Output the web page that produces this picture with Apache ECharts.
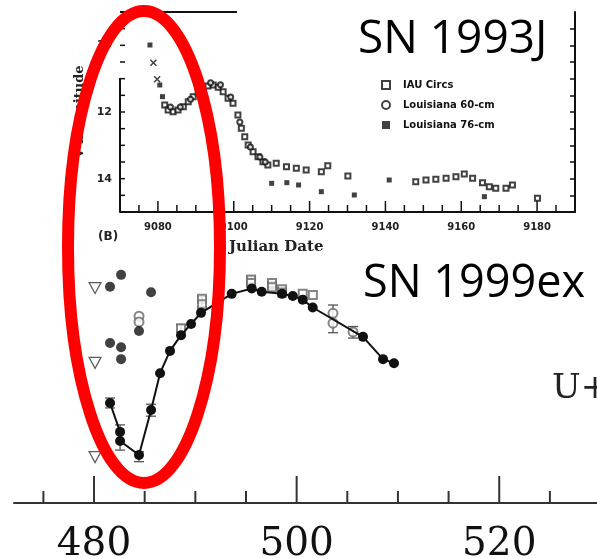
<!DOCTYPE html>
<html><head><meta charset="utf-8">
<script src="https://cdn.jsdelivr.net/npm/echarts@6/dist/echarts.min.js"></script>
<style>html,body{margin:0;padding:0;background:#fff;}#c{width:597px;height:559px;}</style>
</head><body><div id="c"></div>
<script>
// ===== SN 1999ex (main panel): day vs U magnitude =====
const lineDays = [481.58, 482.57, 482.57, 484.44, 485.63, 486.52, 487.50, 488.59, 489.58, 490.56, 493.59, 495.57, 496.55, 498.56, 499.62, 500.60, 501.59, 506.55, 508.53, 509.61];
const lineMags = [18.58, 19.28, 19.50, 19.84, 18.75, 17.86, 17.32, 16.94, 16.67, 16.40, 15.94, 15.81, 15.89, 15.94, 15.99, 16.08, 16.27, 16.98, 17.52, 17.62];

const dotDays = [481.58, 482.67, 485.63, 481.58, 482.67, 482.67, 484.44];
const dotMags = [15.77, 15.48, 15.90, 17.13, 17.23, 17.52, 16.84];

const openCircDays = [484.44, 484.44, 503.59, 503.59, 505.57];
const openCircMags = [16.48, 16.62, 16.41, 16.65, 16.86];

const openSqDays = [488.59, 490.66, 490.66, 495.50, 495.50, 497.57, 497.57, 498.56, 498.56, 500.60, 501.60];
const openSqMags = [16.77, 16.06, 16.19, 15.59, 15.68, 15.68, 15.78, 15.83, 15.91, 15.94, 15.97];

const limitDays = [480.10, 480.10, 480.10];
const limitMags = [15.80, 17.61, 19.89];

const errDays = [481.58, 482.57, 484.44, 485.63, 488.59, 490.66, 495.50, 497.57, 503.59, 505.57];
const errLow  = [18.46, 19.11, 19.76, 18.61, 16.69, 16.00, 15.52, 15.65, 16.21, 16.73];
const errHigh = [18.70, 19.72, 20.00, 18.90, 16.86, 16.25, 15.73, 15.82, 16.88, 17.01];

const mainMajorTicks = [480, 500, 520];
const mainMinorTicks = [475, 485, 490, 495, 505, 510, 515, 525];

// ===== SN 1993J (inset): Julian Date vs V magnitude =====
const crossDays = [9078.8, 9079.8];
const crossMags = [10.52, 11.02];

const ritDays = [9081.8, 9082.7, 9084.0, 9085.3, 9086.7, 9088.0, 9089.3, 9090.6, 9091.9, 9093.2, 9094.6, 9095.9, 9097.2, 9098.5, 9099.8, 9101.1, 9102.0, 9102.9, 9103.8, 9105.1, 9106.4, 9107.7, 9109.0, 9111.2, 9113.9, 9116.5, 9119.1, 9123.1, 9124.8, 9130.1, 9148.0, 9150.7, 9153.3, 9156.0, 9158.6, 9160.8, 9163.0, 9165.6, 9167.4, 9169.1, 9171.8, 9173.5, 9180.1];
const ritMags = [11.79, 11.94, 11.99, 11.94, 11.84, 11.69, 11.54, 11.39, 11.29, 11.22, 11.19, 11.26, 11.39, 11.59, 11.74, 12.09, 12.49, 12.74, 12.99, 13.19, 13.34, 13.49, 13.59, 13.54, 13.64, 13.69, 13.74, 13.79, 13.61, 13.92, 14.09, 14.04, 14.02, 13.99, 13.94, 13.86, 13.99, 14.12, 14.24, 14.29, 14.29, 14.19, 14.59];

const l60Days = [9083.3, 9085.9, 9088.6, 9091.2, 9093.9, 9096.5, 9099.2, 9101.6, 9104.4, 9106.9, 9108.3];
const l60Mags = [11.85, 11.85, 11.62, 11.35, 11.12, 11.18, 11.55, 12.30, 13.05, 13.35, 13.50];

const l76Days = [9077.9, 9080.5, 9081.2, 9110.0, 9114.0, 9117.1, 9123.1, 9131.8, 9141.0, 9166.1];
const l76Mags = [9.99, 11.19, 11.54, 14.14, 14.12, 14.19, 14.39, 14.49, 14.04, 14.54];

const insetLabelTicks = [9080, 9100, 9120, 9140, 9160, 9180];
const insetMinorTicks = [9075, 9085, 9090, 9095, 9105, 9110, 9115, 9125, 9130, 9135, 9145, 9150, 9155, 9165, 9170, 9175, 9185];
const insetMagLabels = [10, 12, 14];
const insetMagTicks = [9.5, 10, 10.5, 11, 11.5, 12, 12.5, 13, 13.5, 14, 14.5];

const legendNames = ['IAU Circs', 'Louisiana 60-cm', 'Louisiana 76-cm'];

const zip = (a, b) => a.map((v, i) => [v, b[i]]);

const chart = echarts.init(document.getElementById('c'), null, {renderer: 'canvas'});

const ink = '#111';
const noLine = {show: false};
const noLabel = {show: false};
const noSplit = {show: false};
const MAIN = {xmin: 472.1, xmax: 529.65, ymin: 15, ymax: 21};
const INS = {xmin: 9070, xmax: 9190, ymin: 9, ymax: 15};

// Axis ticks drawn through the axis scales (x ticks at the bottom edge, y ticks at the left edge)
function xTickSeries(xi, yi, values, yRef, len, color, width) {
  return {type: 'custom', xAxisIndex: xi, yAxisIndex: yi, z: 6, silent: true,
    data: values.map(v => [v, yRef]),
    renderItem: (params, api) => {
      const cs = params.coordSys;
      const x = api.coord([api.value(0), api.value(1)])[0];
      const yb = cs.y + cs.height;
      return {type: 'line', shape: {x1: x, y1: yb, x2: x, y2: yb - len}, style: {stroke: color, lineWidth: width}};
    }};
}
function yTickSeries(xi, yi, values, xRef, len, color, width) {
  return {type: 'custom', xAxisIndex: xi, yAxisIndex: yi, z: 6, silent: true,
    data: values.map(v => [xRef, v]),
    renderItem: (params, api) => {
      const cs = params.coordSys;
      const y = api.coord([api.value(0), api.value(1)])[1];
      return {type: 'line', shape: {x1: cs.x, y1: y, x2: cs.x + len, y2: y}, style: {stroke: color, lineWidth: width}};
    }};
}

const option = {
  animation: false,
  backgroundColor: '#fff',
  grid: [
    {left: 14, right: 0, top: 255, bottom: 56, containLabel: false, outerBoundsMode: 'none'},
    {left: 120, right: 22, top: 12, bottom: 347, containLabel: false, outerBoundsMode: 'none'}
  ],
  legend: {
    left: 376, top: 75, orient: 'vertical', itemGap: 10, itemWidth: 8, itemHeight: 8,
    data: legendNames,
    textStyle: {fontFamily: 'DejaVu Sans', fontWeight: 'bold', fontSize: 10, color: '#111', padding: [0, 0, 0, 8]}
  },
  xAxis: [
    {gridIndex: 0, type: 'value', min: MAIN.xmin, max: MAIN.xmax, position: 'bottom',
      axisLine: {show: true, onZero: false, lineStyle: {color: '#333', width: 2}},
      axisTick: {show: false},
      axisLabel: {show: true, customValues: mainMajorTicks, margin: 22, fontFamily: 'DejaVu Serif', fontSize: 39, color: '#111'},
      splitLine: noSplit},
    {gridIndex: 1, type: 'value', min: INS.xmin, max: INS.xmax, position: 'bottom',
      axisLine: {show: true, onZero: false, lineStyle: {color: ink, width: 2}},
      axisTick: {show: false},
      axisLabel: {show: true, customValues: insetLabelTicks, margin: 10, formatter: v => String(v),
        fontFamily: 'DejaVu Sans', fontWeight: 'bold', fontSize: 10, color: '#222'},
      splitLine: noSplit}
  ],
  yAxis: [
    {gridIndex: 0, type: 'value', min: MAIN.ymin, max: MAIN.ymax, inverse: true, show: false},
    {gridIndex: 1, type: 'value', min: INS.ymin, max: INS.ymax, inverse: true, position: 'left',
      axisLine: noLine, axisTick: {show: false},
      axisLabel: {show: true, customValues: insetMagLabels, margin: 8, fontFamily: 'DejaVu Sans', fontWeight: 'bold', fontSize: 11, color: '#222'},
      name: 'V magnitude', nameLocation: 'middle', nameRotate: 90, nameGap: 32,
      nameTextStyle: {fontFamily: 'DejaVu Serif', fontWeight: 'bold', fontSize: 13, color: '#222'},
      splitLine: noSplit},
    {gridIndex: 1, type: 'value', min: INS.ymin, max: INS.ymax, inverse: true, position: 'right',
      axisLine: {show: true, onZero: false, lineStyle: {color: ink, width: 2}},
      axisTick: {show: true, inside: true, length: 5, customValues: insetMagTicks, lineStyle: {color: ink, width: 1.5}},
      axisLabel: noLabel, splitLine: noSplit}
  ],
  series: [
    // ---- axis ticks ----
    xTickSeries(0, 0, mainMajorTicks, MAIN.ymax, 27, '#333', 2),
    xTickSeries(0, 0, mainMinorTicks, MAIN.ymax, 12, '#333', 2),
    xTickSeries(1, 1, insetLabelTicks, INS.ymax, 11, ink, 1.5),
    xTickSeries(1, 1, insetMinorTicks, INS.ymax, 7, ink, 1.5),
    yTickSeries(1, 1, insetMagTicks, INS.xmin, 5, ink, 1.5),
    // ---- main panel ----
    {type: 'custom', xAxisIndex: 0, yAxisIndex: 0, z: 2,
      data: errDays.map((d, i) => [d, errLow[i], errHigh[i]]),
      renderItem: (params, api) => {
        const a = api.coord([api.value(0), api.value(1)]);
        const b = api.coord([api.value(0), api.value(2)]);
        const w = 5, st = {stroke: '#555', lineWidth: 1.3};
        return {type: 'group', children: [
          {type: 'line', shape: {x1: a[0], y1: a[1], x2: b[0], y2: b[1]}, style: st},
          {type: 'line', shape: {x1: a[0] - w, y1: a[1], x2: a[0] + w, y2: a[1]}, style: st},
          {type: 'line', shape: {x1: b[0] - w, y1: b[1], x2: b[0] + w, y2: b[1]}, style: st}
        ]};
      }},
    {type: 'scatter', xAxisIndex: 0, yAxisIndex: 0, z: 3, data: zip(openSqDays, openSqMags),
      symbol: 'emptyRect', symbolSize: 8, itemStyle: {color: '#666', borderWidth: 1.3}},
    {type: 'scatter', xAxisIndex: 0, yAxisIndex: 0, z: 3, data: zip(openCircDays, openCircMags),
      symbol: 'emptyCircle', symbolSize: 9, itemStyle: {color: '#666', borderWidth: 1.3}},
    {type: 'line', xAxisIndex: 0, yAxisIndex: 0, z: 4, data: zip(lineDays, lineMags),
      symbol: 'circle', symbolSize: 10, showAllSymbol: true,
      lineStyle: {color: '#111', width: 2}, itemStyle: {color: '#111'}},
    {type: 'scatter', xAxisIndex: 0, yAxisIndex: 0, z: 4, data: zip(dotDays, dotMags),
      symbol: 'circle', symbolSize: 10, itemStyle: {color: '#111'}},
    {type: 'scatter', xAxisIndex: 0, yAxisIndex: 0, z: 4, data: zip(limitDays, limitMags),
      symbol: 'path://M0,0L20,0L10,18Z', symbolSize: [12, 11],
      itemStyle: {color: '#fff', borderColor: '#333', borderWidth: 1.2}},
    // ---- inset ----
    {name: legendNames[0], type: 'scatter', xAxisIndex: 1, yAxisIndex: 1, data: zip(ritDays, ritMags),
      symbol: 'emptyRect', symbolSize: 5, itemStyle: {color: '#111', borderWidth: 1.4}},
    {name: legendNames[1], type: 'scatter', xAxisIndex: 1, yAxisIndex: 1, data: zip(l60Days, l60Mags),
      symbol: 'emptyCircle', symbolSize: 5, itemStyle: {color: '#111', borderWidth: 1.4}},
    {name: legendNames[2], type: 'scatter', xAxisIndex: 1, yAxisIndex: 1, data: zip(l76Days, l76Mags),
      symbol: 'rect', symbolSize: 5, itemStyle: {color: '#111'}},
    {type: 'scatter', xAxisIndex: 1, yAxisIndex: 1, data: zip(crossDays, crossMags),
      symbol: 'path://M0,0L10,10M10,0L0,10', symbolSize: 6,
      itemStyle: {color: 'none', borderColor: '#111', borderWidth: 1.5}}
  ],
  graphic: [
    {type: 'line', z: 50, shape: {x1: 120, y1: 12, x2: 237, y2: 12}, style: {stroke: ink, lineWidth: 2}},
    {type: 'line', z: 50, shape: {x1: 120, y1: 78, x2: 120, y2: 212}, style: {stroke: ink, lineWidth: 2}},
    {type: 'text', z: 50, left: 98, top: 231, style: {text: '(B)', font: 'bold 12px "DejaVu Sans"', fill: '#222'}},
    {type: 'text', z: 50, left: 229, top: 240, style: {text: 'Julian Date', font: 'bold 15px "DejaVu Serif"', fill: '#222'}},
    {type: 'text', z: 50, left: 358, top: 17, style: {text: 'SN 1993J', font: '46px "Open Sans"', fill: '#000'}},
    {type: 'text', z: 50, left: 363, top: 262, style: {text: 'SN 1999ex', font: '45px "Open Sans"', fill: '#000'}},
    {type: 'text', z: 50, left: 552, top: 372, style: {text: 'U+', font: '34px "DejaVu Serif"', fill: '#222'}},
    {type: 'ellipse', z: 100, shape: {cx: 144, cy: 247, rx: 76, ry: 236}, style: {fill: null, stroke: '#ff0000', lineWidth: 12}}
  ]
};
chart.setOption(option);
</script></body></html>
